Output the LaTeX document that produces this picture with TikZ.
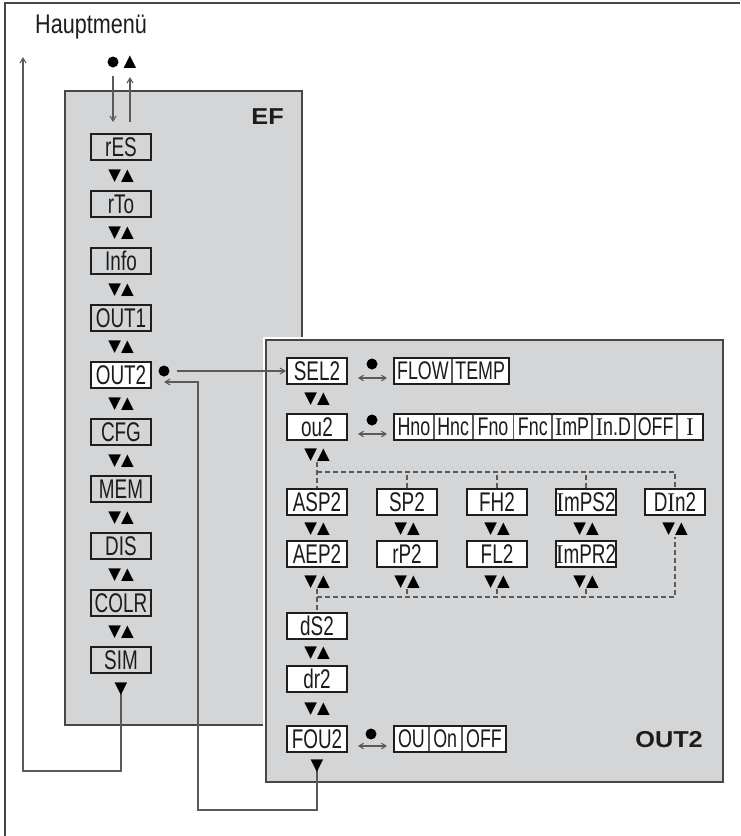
\documentclass[tikz,border=0pt]{standalone}
\usepackage{fontspec}
\setmainfont{Liberation Sans}[FakeStretch=0.7]
\newfontfamily\headfont{Liberation Sans}[FakeStretch=0.8]
\newfontfamily\lblfont{Liberation Sans}[FakeStretch=1.1]
\newfontfamily\serifIfont{Liberation Serif}[FakeStretch=0.85]
\newfontfamily\symf{DejaVu Sans}
\newcommand{\sI}{{\serifIfont I}}
\usetikzlibrary{arrows.meta,calc}
\definecolor{panel}{HTML}{D4D5D7}
\definecolor{edge}{HTML}{474747}
\definecolor{boxline}{HTML}{1E1E1E}
\definecolor{txt}{HTML}{1C1C1C}
\definecolor{wirec}{HTML}{5A5A5A}
\begin{document}
\begin{tikzpicture}[x=1pt,y=-1pt,
  panelbox/.style={fill=panel, draw=edge, line width=1.5pt},
  panellabel/.style={font=\lblfont\bfseries\fontsize{23}{23}\selectfont, text=txt, inner sep=0pt},
  menubox/.style={draw=boxline, line width=2pt, minimum width=60pt, minimum height=26pt, inner sep=0pt, font=\fontsize{27}{27}\selectfont, text=txt},
  whitebox/.style={menubox, fill=white},
  graybox/.style={menubox, fill=panel},
  cell/.style={draw=wirec, line width=0.8pt, fill=white, minimum height=26pt, inner sep=0pt, font=\fontsize{25.5}{25.5}\selectfont, text=txt},
  outline/.style={draw=boxline, line width=2pt},
  nav/.style={font=\symf\fontsize{16.5}{16.5}\selectfont, inner sep=0pt, text=black},
  dotmark/.style={circle, fill=black, minimum size=11pt, inner sep=0pt},
  wire/.style={draw=wirec, line width=1.1pt},
  arr/.style={wire, -{Straight Barb[length=5pt,width=6pt]}},
  dbl/.style={wire, {Straight Barb[length=4.5pt,width=5.5pt]}-{Straight Barb[length=4.5pt,width=5.5pt]}},
  dashwire/.style={draw=wirec, line width=1.1pt, dash pattern=on 5pt off 3pt},
  frameline/.style={draw=edge, line width=2.2pt}
]
\useasboundingbox (0,0) rectangle (740,836);
% outer frame
\draw[frameline] (5,836) -- (5,3) -- (740,3);

% main menu label
\node[anchor=base west, inner sep=0pt, font=\headfont\fontsize{27}{27}\selectfont, text=txt] (haupt) at (35,33) {Hauptmenü};

% EF panel
\draw[panelbox] (65,91) rectangle (302,725);
\node[panellabel, anchor=base east] (eflbl) at (284,124) {EF};

% OUT2 panel with white halo
\fill[white] (262.5,336.5) rectangle (726.5,785.5);
\draw[panelbox] (266,340) rectangle (723,782);
\node[panellabel, anchor=base east] (outlbl) at (703,747) {OUT2};

% EF menu items
\node[graybox] (res) at (121,147) {rES};
\node[graybox] (rto) at (121,204) {rTo};
\node[graybox] (info) at (121,261) {Info};
\node[graybox] (out1) at (121,318) {OUT1};
\node[whitebox] (out2) at (121,375) {OUT2};
\node[graybox] (cfg) at (121,432) {CFG};
\node[graybox] (mem) at (121,489) {MEM};
\node[graybox] (dis) at (121,546) {DIS};
\node[graybox] (colr) at (121,603) {COLR};
\node[graybox] (sim) at (121,660) {SIM};

\node[nav] (n1) at (121,176) {▼▲};
\node[nav] (n2) at (121,233) {▼▲};
\node[nav] (n3) at (121,290) {▼▲};
\node[nav] (n4) at (121,347) {▼▲};
\node[nav] (n5) at (121,404) {▼▲};
\node[nav] (n6) at (121,461) {▼▲};
\node[nav] (n7) at (121,518) {▼▲};
\node[nav] (n8) at (121,575) {▼▲};
\node[nav] (n9) at (121,632) {▼▲};

% top entry symbols
\node[dotmark] (topdot) at (113,62) {};
\node[nav] (topup) at (130,62) {▲};

% wires EF
\coordinate (leftTop) at (23,57);
\coordinate (leftBot) at (23,771);
\coordinate (simBot) at (121,771);
\draw[arr] ($(topdot.south)+(0,8)$) -- ($(topdot|-res.north)+(0,-11)$);
\draw[arr] ($(topup|-res.north)+(0,-11)$) -- (130,77);
\draw[arr] (sim.south |- 0,692) -- (simBot) -- (leftBot) -- (leftTop);
\node[nav] (simnav) at (121,689) {▼};

% OUT2 panel items
\node[whitebox] (sel2) at (317,371) {SEL2};
\node[whitebox] (ou2) at (317,427) {ou2};
\node[whitebox] (asp2) at (317,502) {ASP2};
\node[whitebox] (aep2) at (317,554) {AEP2};
\node[whitebox] (sp2) at (407,502) {SP2};
\node[whitebox] (rp2) at (407,554) {rP2};
\node[whitebox] (fh2) at (497,502) {FH2};
\node[whitebox] (fl2) at (497,554) {FL2};
\node[whitebox] (imps2) at (586,502) {\sI mPS2};
\node[whitebox] (impr2) at (586,554) {\sI mPR2};
\node[whitebox] (din2) at (675,502) {D\sI n2};
\node[whitebox] (ds2) at (317,626) {dS2};
\node[whitebox] (dr2) at (317,679) {dr2};
\node[whitebox] (fou2) at (317,739) {FOU2};

\node[nav] (ns1) at (317,399) {▼▲};
\node[nav] (ns2) at (317,455) {▼▲};
\node[nav] (ra1) at (317,529) {▼▲};
\node[nav] (rb1) at (407,529) {▼▲};
\node[nav] (rc1) at (497,529) {▼▲};
\node[nav] (rd1) at (586,529) {▼▲};
\node[nav] (re1) at (675,529) {▼▲};
\node[nav] (ra2) at (317,582) {▼▲};
\node[nav] (rb2) at (407,582) {▼▲};
\node[nav] (rc2) at (497,582) {▼▲};
\node[nav] (rd2) at (586,582) {▼▲};
\node[nav] (ns3) at (317,653) {▼▲};
\node[nav] (ns4) at (317,709) {▼▲};

% dashed buses
\coordinate (busT) at (317,472);
\coordinate (busB) at (317,597);
\draw[dashwire] (317,462) -- (asp2.north);
\draw[dashwire] (busT) -| (din2.north);
\draw[dashwire] (sp2.north) -- (sp2.north |- busT);
\draw[dashwire] (fh2.north) -- (fh2.north |- busT);
\draw[dashwire] (imps2.north) -- (imps2.north |- busT);
\draw[dashwire] (317,589) -- (ds2.north);
\draw[dashwire] (busB) -| (675,537);
\draw[dashwire] (407,589) -- (rb2.south |- busB);
\draw[dashwire] (497,589) -- (rc2.south |- busB);
\draw[dashwire] (586,589) -- (rd2.south |- busB);

% option rows
\node[cell, minimum width=57pt, anchor=west] (flow) at (394,371) {FLOW};
\node[cell, minimum width=56pt, anchor=west] (temp) at (flow.east) {TEMP};
\draw[outline] (flow.north west) rectangle (temp.south east);

\node[cell, minimum width=39pt, anchor=west] (hno) at (394,427) {Hno};
\node[cell, minimum width=38pt, anchor=west] (hnc) at (hno.east) {Hnc};
\node[cell, minimum width=40pt, anchor=west] (fno) at (hnc.east) {Fno};
\node[cell, minimum width=38pt, anchor=west] (fnc) at (fno.east) {Fnc};
\node[cell, minimum width=39pt, anchor=west] (imp) at (fnc.east) {\sI mP};
\node[cell, minimum width=42pt, anchor=west] (ind) at (imp.east) {\sI n.D};
\node[cell, minimum width=41pt, anchor=west] (off1) at (ind.east) {OFF};
\node[cell, minimum width=26pt, anchor=west] (ival) at (off1.east) {\sI};
\draw[outline] (hno.north west) rectangle (ival.south east);

\node[cell, minimum width=34pt, anchor=west] (ouv) at (394,739) {OU};
\node[cell, minimum width=32pt, anchor=west] (onv) at (ouv.east) {On};
\node[cell, minimum width=44pt, anchor=west] (off2) at (onv.east) {OFF};
\draw[outline] (ouv.north west) rectangle (off2.south east);

% set-dot and double arrows
\node[dotmark] (d1) at (372,364) {};
\node[dotmark] (d2) at (372,420) {};
\node[dotmark] (d3) at (371,734) {};
\draw[dbl] ($(sel2.east)+(10,7)$) -- ($(flow.west)+(-7,7)$);
\draw[dbl] ($(ou2.east)+(10,7)$) -- ($(hno.west)+(-7,7)$);
\draw[dbl] ($(fou2.east)+(10,7)$) -- ($(ouv.west)+(-7,7)$);

% EF -> OUT2 connection
\node[dotmark] (odot) at (164,371) {};
\draw[arr] ($(odot.east)+(7,0)$) -- (sel2.west);

% return from FOU2 to OUT2
\coordinate (retA) at (317,810);
\coordinate (retB) at (198,810);
\coordinate (retTip) at (164,382);
\draw[arr] (fou2.south |- 0,766) -- (retA) -- (retB) |- (retTip);
\node[nav] (founav) at (317,766) {▼};
\end{tikzpicture}
\end{document}
